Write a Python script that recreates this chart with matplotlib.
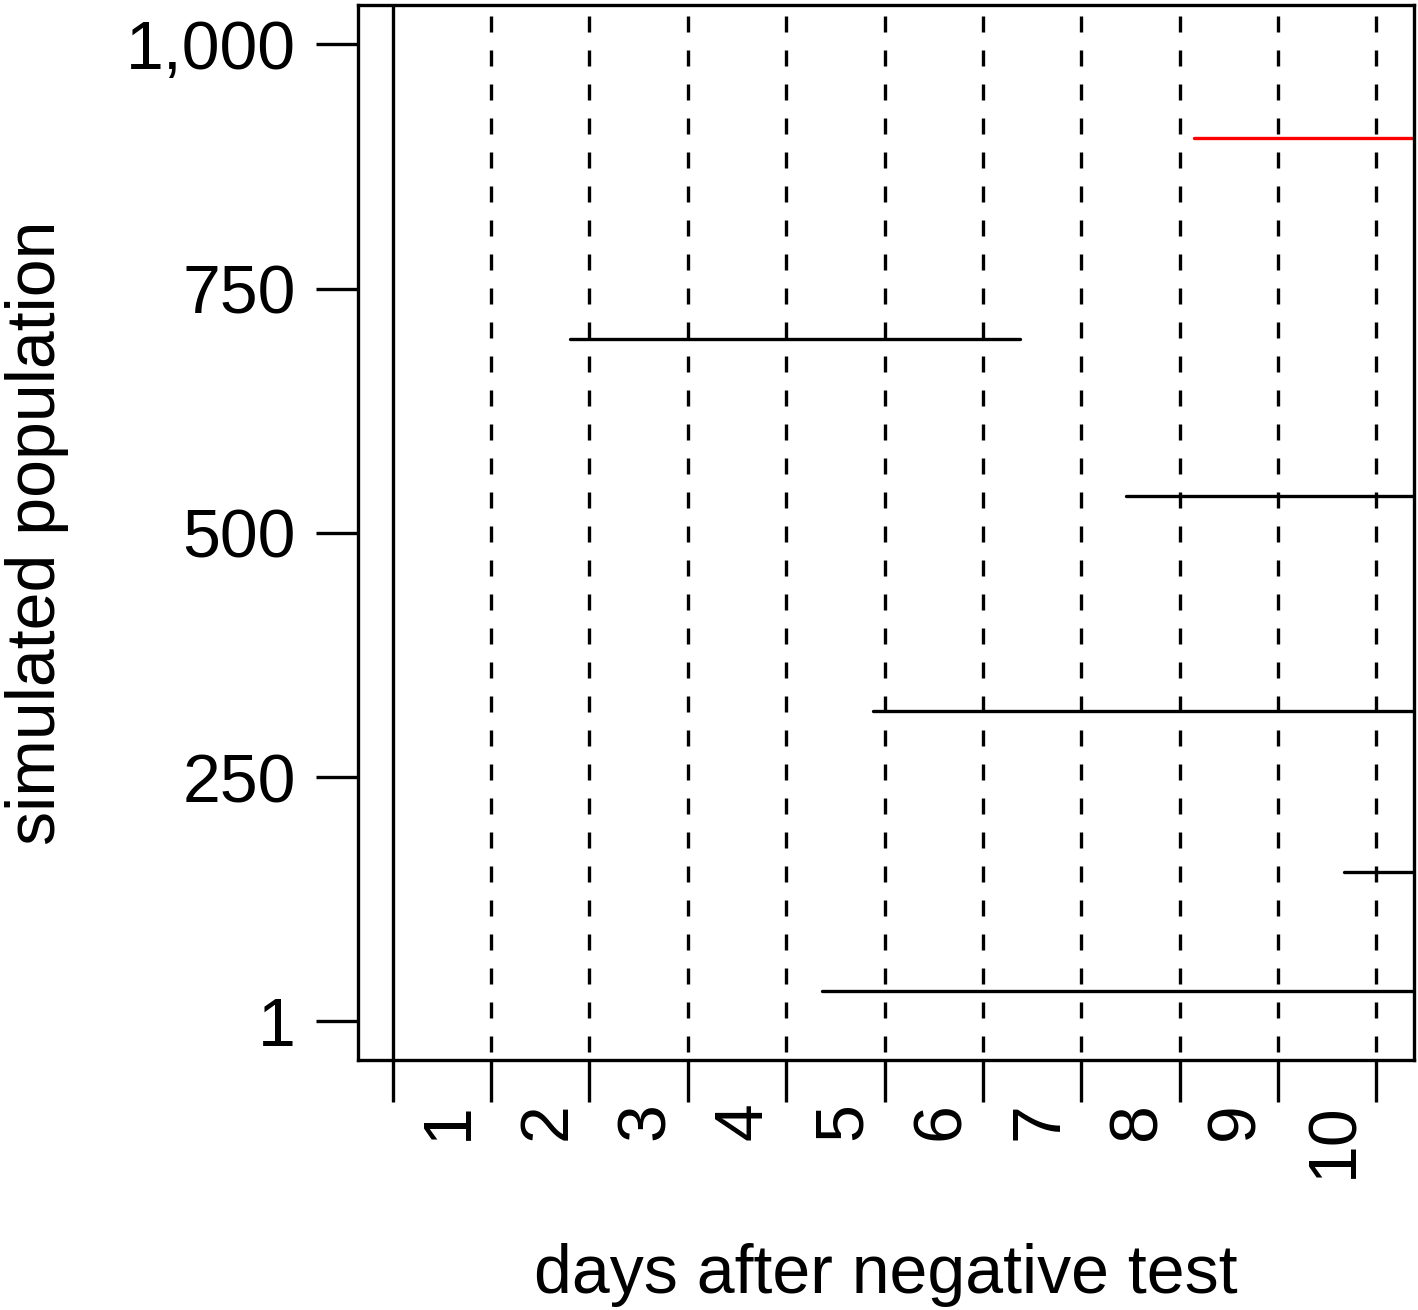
import numpy as np
import matplotlib
matplotlib.use("Agg")
import matplotlib.pyplot as plt

# data
day_edges = np.arange(0, 11)
day_centers = np.arange(10) + 0.5
day_labels = [str(d) for d in range(1, 11)]
y_ticks = [1, 250, 500, 750, 1000]
y_labels = ["1", "250", "500", "750", "1,000"]

seg_level = [32, 153, 318, 538, 698, 904]
seg_start = [4.365, 9.672, 4.883, 7.45, 1.80, 8.15]
seg_end = [11, 11, 11, 11, 6.38, 11]
seg_color = ["black", "black", "black", "black", "black", "red"]

plt.rcParams["font.family"] = ["Liberation Sans", "DejaVu Sans"]
plt.rcParams["lines.scale_dashes"] = False

W, H, DPI = 1418, 1310, 100
fig = plt.figure(figsize=(W / DPI, H / DPI), dpi=DPI)
ax = fig.add_axes([357.5 / W, 1 - 1060 / H, (1413.5 - 357.5) / W, (1060 - 5) / H])

lw = 2.4
px = 0.72  # points per pixel

# vertical day lines: first solid, rest dashed
ax.axvline(day_edges[0], color="black", lw=lw)
for x in day_edges[1:]:
    ax.axvline(x, ymin=1, ymax=0, color="black", lw=lw,
               ls=(23 * px, (16 * px, 18 * px)))

segs = ax.hlines(seg_level, seg_start, seg_end, colors=seg_color, lw=lw)
segs.set_capstyle("round")

ax.set_xlim(-0.358, 10.378)
ax.set_ylim(-38.96, 1039.96)

for s in ax.spines.values():
    s.set_linewidth(lw)

ax.set_yticks(y_ticks, y_labels)
ax.tick_params(axis="y", length=42 * px, width=lw, pad=20 * px, labelsize=49)

ax.set_xticks(day_edges, [""] * len(day_edges))
ax.tick_params(axis="x", which="major", length=42 * px, width=lw)
ax.set_xticks(day_centers, day_labels, minor=True)
ax.tick_params(axis="x", which="minor", length=0, pad=42 * px, labelsize=49)
plt.setp(ax.get_xticklabels(minor=True), rotation=90, rotation_mode="anchor",
         ha="right", va="center_baseline")

ax.set_xlabel("days after negative test", fontsize=49)
ax.xaxis.set_label_coords(0.5, (1060 - 1243) / 1055)
ax.set_ylabel("simulated population", fontsize=49)
ax.yaxis.set_label_coords((69 - 357.5) / 1056, 0.5)

fig.savefig("out.png", dpi=DPI)
